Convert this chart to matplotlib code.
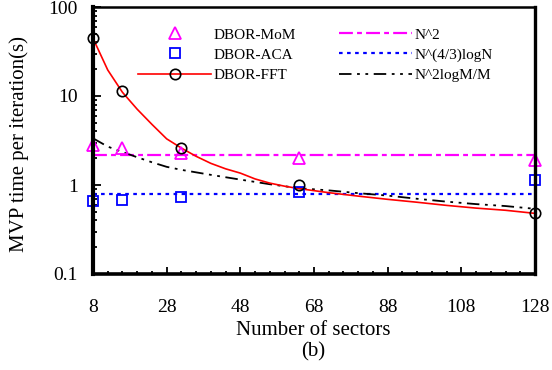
import matplotlib
matplotlib.use("Agg")
import matplotlib.pyplot as plt
from matplotlib.lines import Line2D
from matplotlib.ticker import FixedLocator, LogLocator, FuncFormatter, NullFormatter

plt.rcParams['font.family'] = ['Liberation Serif', 'DejaVu Serif']
plt.rcParams['lines.scale_dashes'] = False

# Measured MVP time per iteration (s)
sectors = [8, 16, 32, 64, 128]
mom_time = [2.8, 2.6, 2.3, 2.0, 1.9]
aca_time = [0.66, 0.68, 0.73, 0.84, 1.14]
fft_time = [44.5, 11.4, 2.6, 0.99, 0.49]

# FFT timing curve over all sector counts
fft_curve_x = [8, 12, 16, 20, 24, 28, 32, 36, 40, 44, 48, 52, 56, 60, 64,
               72, 80, 88, 96, 104, 112, 120, 128]
fft_curve_y = [44.5, 19.6, 11.0, 7.1, 4.8, 3.3, 2.6, 2.1, 1.75, 1.52, 1.36,
               1.17, 1.05, 0.97, 0.91, 0.82, 0.75, 0.69, 0.64, 0.59, 0.55,
               0.52, 0.48]

# Complexity reference curves
ref_x = [8, 128]
n2_ref = [2.15, 2.15]
n43_ref = [0.8, 0.8]
n2logm_x = [8, 12, 16, 20, 24, 28, 32, 40, 48, 56, 64, 72, 80, 88, 96,
            104, 112, 120, 128]
n2logm_y = [3.35, 2.7, 2.35, 2.05, 1.8, 1.6, 1.48, 1.3, 1.15, 1.02, 0.92,
            0.87, 0.81, 0.76, 0.70, 0.65, 0.61, 0.58, 0.54]

x_major = [8, 28, 48, 68, 88, 108, 128]
x_minor = list(range(8, 129, 4))

fig = plt.figure(figsize=(5.52, 3.70), dpi=100)
ax = fig.add_axes([93 / 552, 1 - 274 / 370, 442 / 552, 267 / 370])

magenta = '#ff00ff'
blue = '#0000ff'

ax.plot(ref_x, n2_ref, color=magenta, lw=1.6, dashes=(10, 3, 3.5, 3))
ax.plot(ref_x, n43_ref, color=blue, lw=1.6, dashes=(2.6, 3.2))
ax.plot(n2logm_x, n2logm_y, color='black', lw=1.3, dashes=(9, 4, 2, 4, 2, 4))
ax.plot(fft_curve_x, fft_curve_y, color='red', lw=1.2)

ax.plot(sectors, mom_time, ls='none', marker='^', ms=8, mfc='none',
        mec=magenta, mew=1.3, clip_on=False)
ax.plot(sectors, aca_time, ls='none', marker='s', ms=7, mfc='none',
        mec=blue, mew=1.3, clip_on=False)
ax.plot(sectors, fft_time, ls='none', marker='o', ms=7.5, mfc='none',
        mec='black', mew=1.2, clip_on=False)

ax.set_yscale('log')
ax.set_ylim(0.1, 100)
ax.set_xlim(8, 128)

ax.xaxis.set_major_locator(FixedLocator(x_major))
ax.xaxis.set_minor_locator(FixedLocator(x_minor))
ax.yaxis.set_major_locator(LogLocator(base=10, numticks=10))
ax.yaxis.set_minor_locator(LogLocator(base=10, subs=range(2, 10), numticks=10))
ax.yaxis.set_major_formatter(FuncFormatter(lambda v, p: f"{v:g}"))
ax.yaxis.set_minor_formatter(NullFormatter())

ax.tick_params(axis='both', which='both', direction='in', top=False, right=False,
               labelsize=14, width=1.3)
ax.tick_params(axis='y', which='major', length=6, pad=11)
ax.tick_params(axis='y', which='minor', length=3)
ax.tick_params(axis='x', which='major', length=5, pad=18)
ax.tick_params(axis='x', which='minor', length=2.5)

for side, lw in (('left', 3.0), ('bottom', 2.6), ('right', 2.4), ('top', 1.8)):
    ax.spines[side].set_linewidth(lw)
    ax.spines[side].set_color('black')

fig.text(313 / 552, 1 - 335 / 370, 'Number of sectors', ha='center',
         va='baseline', fontsize=15)
fig.text(19 / 552, 1 - 144 / 370, 'MVP time per iteration(s)', ha='center',
         va='center', rotation=90, fontsize=15)
fig.text(313 / 552, 1 - 352 / 370, '(b)', ha='center', va='center', fontsize=15)

handles = [
    Line2D([], [], ls='none', marker='^', ms=8, mfc='none', mec=magenta, mew=1.3),
    Line2D([], [], ls='none', marker='s', ms=7, mfc='none', mec=blue, mew=1.3),
    Line2D([], [], color='red', lw=1.2, marker='o', ms=7.5, mfc='none',
           mec='black', mew=1.2),
    Line2D([], [], color=magenta, lw=1.6, dashes=(10, 3, 3.5, 3)),
    Line2D([], [], color=blue, lw=1.6, dashes=(2.6, 3.2)),
    Line2D([], [], color='black', lw=1.3, dashes=(9, 4, 2, 4, 2, 4)),
]
labels = ['DBOR-MoM', 'DBOR-ACA', 'DBOR-FFT', 'N^2', 'N^(4/3)logN', 'N^2logM/M']
ax.legend(handles, labels, ncol=2, frameon=False, fontsize=11,
          loc='upper left', bbox_to_anchor=((138 - 93) / 442, (274 - 28) / 267),
          borderaxespad=0, borderpad=0, handlelength=4.8, handletextpad=0.15,
          columnspacing=2.8, labelspacing=0.42)

fig.savefig('out.png', dpi=100)
